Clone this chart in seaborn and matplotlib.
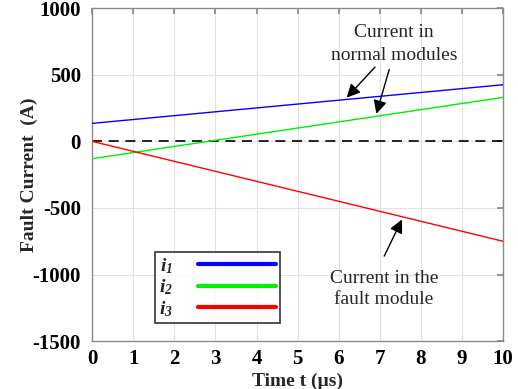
import matplotlib
matplotlib.use("Agg")
import matplotlib.pyplot as plt
import seaborn as sns
import pandas as pd
from matplotlib.lines import Line2D

time_us = [0, 1, 2, 3, 4, 5, 6, 7, 8, 9, 10]
i1 = [135, 164, 193, 222, 251, 280, 309, 338, 367, 396, 425]
i2 = [-130, -84, -38, 8, 54, 100, 146, 192, 238, 284, 330]
i3 = [0, -75, -150, -225, -300, -375, -450, -525, -600, -675, -750]
series_names = ["i1", "i2", "i3"]
series_labels = [r"$\mathbfit{i}_{\mathbfit{1}}$", r"$\mathbfit{i}_{\mathbfit{2}}$", r"$\mathbfit{i}_{\mathbfit{3}}$"]
colors = ["#0000ff", "#00ee00", "#ff0000"]
xticks = [0, 1, 2, 3, 4, 5, 6, 7, 8, 9, 10]
yticks = [-1500, -1000, -500, 0, 500, 1000]

sns.set_theme(style="whitegrid")
plt.rcParams["font.family"] = ["Liberation Serif", "DejaVu Serif"]
plt.rcParams["mathtext.fontset"] = "custom"
plt.rcParams["mathtext.it"] = "Liberation Serif:italic"
plt.rcParams["mathtext.bf"] = "Liberation Serif:bold"
plt.rcParams["mathtext.bfit"] = "Liberation Serif:bold:italic"

df = pd.DataFrame({
    "t": time_us * 3,
    "I": i1 + i2 + i3,
    "s": [series_names[0]] * len(time_us) + [series_names[1]] * len(time_us) + [series_names[2]] * len(time_us),
})

fig = plt.figure(figsize=(5.18, 3.89), dpi=100)
ax = fig.add_axes([0.178, 0.123, 0.793, 0.856])
sns.lineplot(data=df, x="t", y="I", hue="s", palette=dict(zip(series_names, colors)),
             linewidth=1.0, legend=False, ax=ax, zorder=3)
ax.axhline(0, color="black", linestyle=(0, (6, 4)), linewidth=1.2, zorder=2)

ax.set_xlim(0, 10)
ax.set_ylim(-1500, 1000)
ax.set_xticks(xticks)
ax.set_yticks(yticks)
ax.set_xticklabels([str(v) for v in xticks], fontsize=15, fontweight="bold")
ax.set_yticklabels([str(v) for v in yticks], fontsize=15, fontweight="bold")
ax.grid(True, color="#e2e2e2", linewidth=0.8)
for sp in ax.spines.values():
    sp.set_color("#8a8a8a")
    sp.set_linewidth(1.0)
ax.tick_params(axis="both", direction="in", length=4, color="#8a8a8a",
               top=True, right=True, labelcolor="black")
ax.tick_params(axis="x", pad=6)
ax.tick_params(axis="y", pad=8)
ax.set_xlabel("Time t (µs)", fontsize=14, fontweight="bold", labelpad=2)
ax.set_ylabel("Fault Current  (A)", fontsize=14, fontweight="bold", labelpad=-4)

handles = [Line2D([0], [0], color=c, linewidth=3, solid_capstyle="round") for c in colors]
leg = ax.legend(handles, series_labels, loc="lower left", bbox_to_anchor=(0.152, 0.055),
                markerfirst=False, frameon=True, fancybox=False, fontsize=14,
                handlelength=4.0, handletextpad=1.3, labelspacing=0.1, borderpad=0.2,
                borderaxespad=0)
leg.get_frame().set_edgecolor("black")
leg.get_frame().set_linewidth(1.2)
leg.set_zorder(5)

arrowprops = dict(arrowstyle="-|>", color="black", lw=1.0, mutation_scale=20)
ax.text(7.35, 731, "Current in\nnormal modules", ha="center", va="center",
        fontsize=14, linespacing=1.4)
ax.annotate("", xy=(6.15, 313), xytext=(6.93, 573), arrowprops=arrowprops)
ax.annotate("", xy=(6.9, 187), xytext=(7.25, 560), arrowprops=arrowprops)
ax.text(7.1, -1108, "Current in the\nfault module", ha="center", va="center",
        fontsize=14, linespacing=1.3)
ax.annotate("", xy=(7.57, -568), xytext=(7.08, -880), arrowprops=arrowprops)

fig.savefig("out.png", dpi=100)
